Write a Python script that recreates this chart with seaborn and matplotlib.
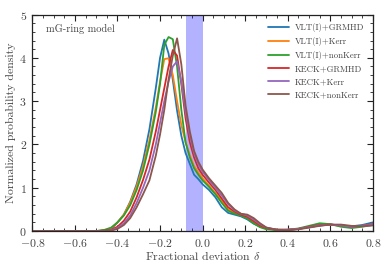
import numpy as np
import pandas as pd
import seaborn as sns
import matplotlib.pyplot as plt
from matplotlib.ticker import MultipleLocator

# fractional deviation grid and the read-off densities for each run
delta = [-0.8, -0.6, -0.5, -0.46, -0.43, -0.40, -0.37, -0.34, -0.31, -0.28, -0.25, -0.22,
         -0.20, -0.18, -0.16, -0.14, -0.12, -0.10, -0.08, -0.06, -0.04, -0.02, 0.00,
         0.03, 0.06, 0.09, 0.12, 0.15, 0.18, 0.21, 0.24, 0.27, 0.30, 0.35, 0.40, 0.45,
         0.50, 0.55, 0.60, 0.65, 0.70, 0.75, 0.80]

vlt_grmhd = [0, 0, 0.0, 0.01, 0.04, 0.20, 0.38, 0.68, 1.08, 1.62, 2.35, 3.30,
             4.00, 4.42, 4.10, 3.49, 2.78, 2.20, 1.80, 1.55, 1.30, 1.20, 1.08,
             0.95, 0.78, 0.55, 0.42, 0.38, 0.34, 0.27, 0.17, 0.10, 0.06, 0.03, 0.03, 0.05,
             0.09, 0.13, 0.15, 0.13, 0.11, 0.14, 0.20]
vlt_kerr = [0, 0, 0.0, 0.02, 0.06, 0.20, 0.38, 0.66, 1.03, 1.50, 2.10, 2.85,
            3.45, 3.97, 3.99, 3.60, 3.00, 2.45, 2.05, 1.75, 1.50, 1.35, 1.22,
            1.05, 0.88, 0.70, 0.50, 0.42, 0.37, 0.30, 0.20, 0.11, 0.06, 0.03, 0.03, 0.05,
            0.10, 0.14, 0.15, 0.12, 0.10, 0.12, 0.16]
vlt_nonkerr = [0, 0, 0.0, 0.03, 0.08, 0.20, 0.36, 0.60, 0.95, 1.40, 2.00, 2.75,
               3.40, 4.30, 4.48, 4.43, 3.80, 2.80, 2.05, 1.70, 1.45, 1.30, 1.17,
               1.02, 0.85, 0.65, 0.47, 0.40, 0.36, 0.29, 0.18, 0.09, 0.04, 0.02, 0.03, 0.06,
               0.12, 0.18, 0.16, 0.10, 0.07, 0.10, 0.14]
keck_grmhd = [0, 0, 0.0, 0.01, 0.03, 0.10, 0.24, 0.45, 0.78, 1.18, 1.65, 2.30,
              2.80, 3.30, 3.80, 4.18, 4.05, 3.40, 2.60, 2.05, 1.70, 1.45, 1.30,
              1.12, 0.95, 0.75, 0.55, 0.45, 0.38, 0.33, 0.23, 0.13, 0.07, 0.03, 0.03, 0.05,
              0.10, 0.14, 0.15, 0.13, 0.10, 0.12, 0.16]
keck_kerr = [0, 0, 0.0, 0.0, 0.02, 0.07, 0.18, 0.36, 0.65, 1.00, 1.40, 2.00,
             2.50, 3.00, 3.45, 3.80, 3.92, 3.45, 2.75, 2.20, 1.80, 1.55, 1.37,
             1.18, 1.00, 0.82, 0.62, 0.48, 0.40, 0.36, 0.27, 0.16, 0.08, 0.03, 0.03, 0.05,
             0.09, 0.13, 0.15, 0.13, 0.10, 0.12, 0.15]
keck_nonkerr = [0, 0, 0.0, 0.0, 0.01, 0.05, 0.14, 0.30, 0.55, 0.85, 1.17, 1.74,
                2.23, 2.80, 3.50, 4.05, 4.45, 3.85, 2.90, 2.30, 1.85, 1.60, 1.42,
                1.22, 1.05, 0.88, 0.65, 0.50, 0.40, 0.38, 0.30, 0.18, 0.08, 0.03, 0.02, 0.04,
                0.08, 0.12, 0.15, 0.15, 0.12, 0.11, 0.13]

labels = ['VLT(I)+GRMHD', 'VLT(I)+Kerr', 'VLT(I)+nonKerr',
          'KECK+GRMHD', 'KECK+Kerr', 'KECK+nonKerr']
series = [vlt_grmhd, vlt_kerr, vlt_nonkerr, keck_grmhd, keck_kerr, keck_nonkerr]

df = pd.concat([pd.DataFrame({'delta': delta, 'density': s, 'run': lab})
                for lab, s in zip(labels, series)], ignore_index=True)

sns.set_style('ticks')
plt.rcParams['font.family'] = ['cmr10', 'DejaVu Serif']
plt.rcParams['mathtext.fontset'] = 'cm'
plt.rcParams['axes.formatter.use_mathtext'] = True
plt.rcParams['axes.unicode_minus'] = True

fig = plt.figure(figsize=(3.9, 2.69), dpi=100)
ax = fig.add_axes([0.083, 0.141, 0.873, 0.805])

ax.axvspan(-0.08, 0.0, color='blue', alpha=0.3, lw=0)
sns.lineplot(data=df, x='delta', y='density', hue='run', hue_order=labels,
             palette='tab10', lw=1.3, ax=ax, sort=False)

ax.set_xlim(-0.8, 0.8)
ax.set_ylim(0, 5)
ax.xaxis.set_major_locator(MultipleLocator(0.2))
ax.xaxis.set_minor_locator(MultipleLocator(0.05))
ax.yaxis.set_major_locator(MultipleLocator(1))
ax.yaxis.set_minor_locator(MultipleLocator(0.2))
ax.tick_params(which='both', direction='in', top=True, right=True, labelsize=8.5,
               color='#222222', labelcolor='#444444')
ax.tick_params(which='major', length=4, width=0.8)
ax.tick_params(which='minor', length=2, width=0.6)
ax.tick_params(axis='x', which='major', pad=4.5)
ax.tick_params(axis='y', which='major', pad=4)
for sp in ax.spines.values():
    sp.set_color('#222222')
    sp.set_linewidth(0.9)

ax.set_xlabel(r'Fractional deviation $\delta$', fontsize=8.5, color='#444444', labelpad=0)
ax.set_ylabel('Normalized probability density', fontsize=8.5, color='#444444', labelpad=2)
ax.text(0.041, 0.933, 'mG-ring model', transform=ax.transAxes, fontsize=7.5,
        color='#444444', va='center', ha='left')

leg = ax.legend(loc='upper right', frameon=False, fontsize=6.3, labelspacing=0.55,
                handlelength=2.3, handletextpad=0.7, borderaxespad=0.6)
for t in leg.get_texts():
    t.set_color('#444444')

fig.savefig('out.png', dpi=100)
